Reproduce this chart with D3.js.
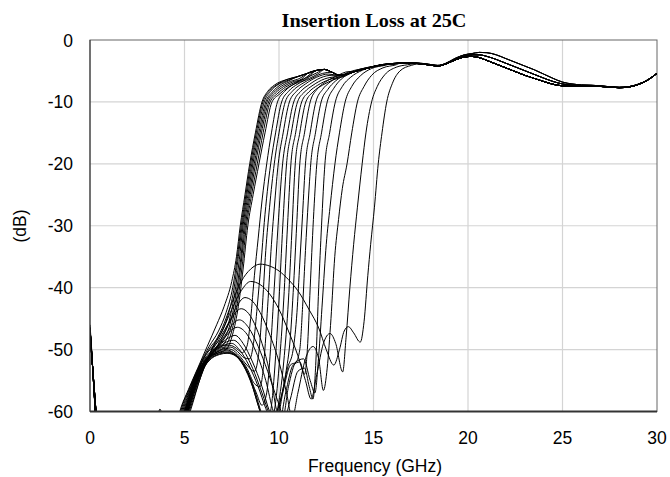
<!DOCTYPE html>
<html><head><meta charset="utf-8">
<script src="https://cdn.jsdelivr.net/npm/d3@7"></script>
<style>body{margin:0;background:#fff}svg{display:block}</style>
</head><body><svg id="c" width="670" height="477"></svg>
<script>
const title = "Insertion Loss at 25C";
const xLabel = "Frequency (GHz)";
const yLabel = "(dB)";
const xTicks = [0,5,10,15,20,25,30];
const yTicks = [0,-10,-20,-30,-40,-50,-60];

// shared low-frequency segments
const lowA = [[0,-46.5],[0.1,-51],[0.22,-57],[0.34,-63],[0.6,-68],[4.3,-68]];
const lowB = [[0,-47.5],[0.13,-52.5],[0.28,-58.5],[0.42,-64],[0.7,-68],[4.3,-68]];
const lowBlip = [[0,-46],[0.1,-50.5],[0.2,-56],[0.32,-62],[0.6,-66],[3.5,-62],[3.7,-59.6],[3.9,-62],[4.3,-66]];

// shared passband segments
const passA = [[10,-6.8],[10.5,-6.3],[11,-5.9],[11.5,-5.4],[12,-4.9],[12.4,-4.75],[12.8,-5.2],[13.2,-5.7],[13.6,-5.5],[14,-5.1],[14.5,-4.7],[15,-4.3],[15.5,-4.0],[16,-3.85],[16.5,-3.75],[17,-3.75],[17.5,-3.85],[18,-4.05],[18.4,-4.2],[18.8,-3.9],[19.3,-3.25],[19.8,-2.75],[20.2,-2.65],[20.6,-2.85],[21,-3.3],[21.5,-3.9],[22,-4.5],[22.5,-5.1],[23,-5.7],[23.5,-6.2],[24,-6.7],[24.5,-7.15],[25,-7.4],[25.5,-7.45],[26,-7.45],[26.5,-7.45],[27,-7.5],[27.5,-7.6],[28,-7.7],[28.5,-7.6],[29,-7.2],[29.5,-6.5],[30,-5.4]];
const passB = [[14,-5.0],[14.5,-4.6],[15,-4.25],[15.5,-3.95],[16,-3.8],[16.5,-3.7],[17,-3.7],[17.5,-3.8],[18,-4.0],[18.4,-4.15],[18.8,-3.85],[19.3,-3.15],[19.8,-2.6],[20.2,-2.4],[20.6,-2.4],[21,-2.65],[21.5,-3.15],[22,-3.75],[22.5,-4.35],[23,-4.95],[23.5,-5.55],[24,-6.15],[24.5,-6.7],[25,-7.1],[25.5,-7.3],[26,-7.35],[26.5,-7.35],[27,-7.45],[27.5,-7.55],[28,-7.65],[28.5,-7.55],[29,-7.15],[29.5,-6.45],[30,-5.35]];
const passC = [[15,-4.2],[15.5,-3.9],[16,-3.75],[16.5,-3.65],[17,-3.65],[17.5,-3.75],[18,-3.95],[18.4,-4.1],[18.8,-3.8],[19.3,-3.0],[19.8,-2.4],[20.2,-2.2],[20.6,-2.0],[21,-2.05],[21.5,-2.4],[22,-3.0],[22.5,-3.6],[23,-4.2],[23.5,-4.8],[24,-5.5],[24.5,-6.2],[25,-6.8],[25.5,-7.1],[26,-7.25],[26.5,-7.3],[27,-7.4],[27.5,-7.55],[28,-7.65],[28.5,-7.55],[29,-7.15],[29.5,-6.45],[30,-5.35]];

// individual transition curves (stopband + rise + knee)
const c00 = [[4.75,-60],[5.2,-56.5],[5.7,-53],[6.2,-49.5],[6.7,-46],[7.1,-43],[7.5,-39],[7.75,-35],[7.95,-30],[8.2,-25],[8.45,-20],[8.75,-15],[9.1,-10],[9.4,-8.3],[9.75,-7.3]];
const c01 = [[4.8,-60],[5.3,-56],[5.8,-52.5],[6.3,-49.5],[6.8,-47],[7.2,-44],[7.55,-40],[7.8,-35],[8.0,-30],[8.25,-25],[8.5,-20],[8.8,-15],[9.15,-10],[9.5,-8.2],[9.85,-7.3]];
const c02 = [[4.85,-60],[5.4,-55.5],[5.9,-52],[6.4,-49.5],[6.9,-47.5],[7.3,-44.5],[7.6,-40.5],[7.85,-35],[8.05,-30],[8.3,-25],[8.56,-20],[8.86,-15],[9.22,-10],[9.55,-8.3],[9.95,-7.2],[10.4,-6.6]];
const c03 = [[4.9,-60],[5.5,-55],[6.0,-51.5],[6.5,-49.5],[7.0,-48],[7.35,-45.5],[7.65,-41],[7.9,-35.5],[8.1,-30],[8.36,-25],[8.62,-20],[8.93,-15],[9.3,-10],[9.65,-8.4],[10.05,-7.3],[10.5,-6.6]];
const c04 = [[4.95,-60],[5.55,-54.5],[6.05,-51.5],[6.6,-49.8],[7.05,-48.5],[7.4,-46],[7.7,-41.5],[7.95,-36],[8.16,-30],[8.42,-25],[8.69,-20],[9.0,-15],[9.37,-10],[9.72,-8.5],[10.15,-7.4],[10.6,-6.7],[11.1,-6.2]];
const c05 = [[5.0,-60],[5.6,-54.5],[6.1,-51.5],[6.7,-50],[7.1,-49],[7.45,-46.5],[7.75,-42],[8.0,-36],[8.22,-30],[8.48,-25],[8.76,-20],[9.07,-15],[9.45,-10],[9.8,-8.6],[10.25,-7.5],[10.7,-6.8],[11.2,-6.3]];
const c06 = [[5.05,-60],[5.65,-54],[6.15,-51.5],[6.75,-50.3],[7.15,-49.5],[7.5,-47],[7.8,-42.5],[8.05,-36.5],[8.28,-30],[8.55,-25],[8.85,-20],[9.16,-15],[9.53,-10],[9.9,-8.7],[10.35,-7.6],[10.8,-6.9],[11.3,-6.3]];
const c07 = [[5.1,-60],[5.7,-54],[6.2,-51.5],[6.8,-50.5],[7.2,-50],[7.55,-47.5],[7.85,-43],[8.1,-37],[8.35,-30],[8.63,-25],[8.94,-20],[9.26,-15],[9.63,-10],[10.0,-8.8],[10.45,-7.7],[10.9,-7.0],[11.4,-6.4]];
const c08 = [[5.0,-60],[5.6,-54.5],[6.15,-51.5],[6.65,-50],[7.05,-49.3],[7.4,-49.3],[7.75,-49.8],[8.05,-50.5],[8.3,-49.5],[8.5,-45],[8.7,-38],[8.9,-32],[9.1,-26],[9.35,-20],[9.6,-15],[9.92,-10],[10.3,-8.3],[10.8,-7.1],[11.4,-6.2],[12.0,-5.3]];
const c09 = [[5.0,-60],[5.6,-54.5],[6.15,-51.5],[6.7,-50.2],[7.1,-49.6],[7.45,-49.6],[7.8,-50.3],[8.15,-51.3],[8.45,-51.5],[8.65,-49],[8.85,-43],[9.05,-36],[9.22,-29.5],[9.38,-24.5],[9.56,-20],[9.82,-15],[10.14,-10],[10.5,-8.3],[11.0,-7.1],[11.6,-6.2],[12.1,-5.4]];
const c10 = [[5.05,-60],[5.65,-54.5],[6.2,-51.6],[6.75,-50.3],[7.15,-49.8],[7.5,-50],[7.9,-51],[8.3,-52.5],[8.7,-53.5],[8.95,-50],[9.1,-44],[9.3,-34],[9.5,-27],[9.75,-20],[10.0,-15],[10.33,-10],[10.7,-8.3],[11.2,-7.1],[11.8,-6.1],[12.3,-5.4]];
const c11 = [[5.05,-60],[5.65,-54.5],[6.2,-51.6],[6.75,-50.4],[7.15,-50],[7.5,-50.3],[7.9,-51.3],[8.3,-53],[8.7,-55.5],[9.0,-56],[9.2,-52],[9.4,-43],[9.6,-33],[9.78,-26],[9.96,-20],[10.22,-15],[10.55,-10],[10.92,-8.3],[11.4,-7.1],[12.0,-6.0],[12.6,-5.5]];
const c12 = [[5.1,-60],[5.7,-54.5],[6.25,-51.6],[6.8,-50.5],[7.2,-50.2],[7.55,-50.5],[8.0,-51.8],[8.4,-54],[8.8,-57],[9.1,-59],[9.35,-57],[9.55,-50],[9.75,-40],[9.95,-30],[10.19,-20],[10.45,-15],[10.78,-10],[11.15,-8.3],[11.6,-7.2],[12.2,-6.1],[12.8,-5.7]];
const c13 = [[5.1,-60],[5.7,-54.5],[6.25,-51.7],[6.8,-50.6],[7.2,-50.4],[7.6,-50.7],[8.05,-52.2],[8.5,-55],[8.9,-59],[9.25,-62],[9.55,-60],[9.8,-52],[10.0,-42],[10.2,-30],[10.4,-20],[10.65,-15],[10.98,-10],[11.35,-8.4],[11.8,-7.3],[12.4,-6.3],[13.0,-5.9]];
const c14 = [[5.15,-60],[5.75,-54.5],[6.3,-51.7],[6.85,-50.7],[7.25,-50.5],[7.65,-50.9],[8.1,-52.5],[8.6,-56],[9.0,-60],[9.4,-63],[9.75,-60],[10.05,-51],[10.25,-42],[10.45,-30],[10.63,-20],[10.88,-15],[11.2,-10],[11.58,-8.4],[12.05,-7.3],[12.65,-6.4],[13.3,-5.9]];
const c15 = [[5.15,-60],[5.75,-54.5],[6.3,-51.8],[6.85,-50.8],[7.25,-50.6],[7.7,-51],[8.2,-52.8],[8.7,-56.5],[9.1,-60.5],[9.5,-63],[9.9,-60],[10.25,-52],[10.5,-42],[10.68,-31],[10.86,-20],[11.1,-15],[11.42,-10],[11.8,-8.4],[12.3,-7.3],[12.9,-6.4],[13.5,-5.8]];
const c16 = [[5.05,-60],[5.65,-54.5],[6.2,-51.5],[6.7,-50],[7.1,-49.3],[7.5,-49],[7.9,-50],[8.4,-52.5],[8.9,-56],[9.3,-59.5],[9.65,-62],[10.0,-59],[10.35,-54],[10.6,-48],[10.8,-38],[10.95,-29],[11.1,-20],[11.35,-15],[11.65,-10],[12.0,-8],[12.4,-6.9],[13.0,-5.9],[13.7,-5.1]];
const c17 = [[5.1,-60],[5.7,-54.5],[6.2,-51.5],[6.7,-49.8],[7.1,-49],[7.35,-48.6],[7.6,-48.5],[8.1,-50],[8.6,-53],[9.1,-57],[9.5,-60.5],[9.8,-62],[10.1,-58],[10.45,-53],[10.75,-50],[10.95,-44],[11.1,-36],[11.25,-28],[11.4,-20],[11.65,-15],[11.95,-10],[12.3,-8],[12.7,-6.8],[13.3,-5.7],[14.0,-4.9]];
const c18 = [[5.1,-60],[5.7,-54.5],[6.25,-51.3],[6.75,-49.6],[7.15,-48.5],[7.45,-47.9],[7.67,-47.7],[8.1,-49],[8.6,-52],[9.1,-56],[9.5,-60],[9.85,-62],[10.2,-57],[10.6,-52.5],[10.9,-52],[11.1,-50],[11.25,-43],[11.4,-34],[11.55,-26],[11.68,-20],[11.93,-15],[12.23,-10],[12.58,-8],[13.0,-6.6],[13.6,-5.5],[14.3,-4.7]];
const c19 = [[5.15,-60],[5.75,-54.5],[6.3,-51.2],[6.8,-49.3],[7.2,-47.8],[7.5,-46.8],[7.8,-46.4],[8.3,-47.5],[8.8,-50.5],[9.3,-55],[9.7,-60],[10.0,-62],[10.35,-57],[10.75,-52.5],[11.1,-52],[11.35,-54],[11.5,-50],[11.65,-40],[11.82,-29],[12.0,-20],[12.25,-15],[12.55,-10],[12.9,-7.8],[13.3,-6.3],[13.9,-5.2],[14.6,-4.5]];
const c20 = [[5.15,-60],[5.75,-54.5],[6.35,-51],[6.85,-49],[7.3,-47],[7.6,-45.7],[7.9,-45.2],[8.4,-46.5],[8.9,-49.5],[9.4,-53.5],[9.9,-58],[10.3,-61],[10.6,-58],[11.0,-53.5],[11.35,-53],[11.6,-56],[11.8,-58],[11.95,-52],[12.1,-40],[12.25,-30],[12.43,-20],[12.68,-15],[12.98,-10],[13.35,-7.5],[13.8,-6.0],[14.4,-4.9],[15.1,-4.2]];
const c21 = [[5.2,-60],[5.8,-54.5],[6.4,-51],[6.9,-48.5],[7.4,-45.5],[7.7,-44],[8.0,-43.4],[8.4,-44.2],[8.8,-46.5],[9.2,-50],[9.6,-55],[9.9,-60],[10.2,-61],[10.5,-56],[10.9,-52],[11.3,-51.5],[11.65,-55],[11.9,-57],[12.1,-51],[12.3,-42],[12.5,-33],[12.7,-27],[12.96,-20],[13.2,-15],[13.5,-10],[13.85,-7.5],[14.3,-5.8],[14.9,-4.6],[15.6,-4.1]];
const c22 = [[5.2,-60],[5.8,-54.5],[6.4,-50.5],[6.9,-48],[7.4,-45.3],[7.8,-42.8],[8.2,-41.6],[8.6,-42.2],[9.0,-44],[9.5,-47.5],[10.0,-52],[10.4,-57],[10.7,-61],[11.0,-57],[11.4,-51.5],[11.8,-49.5],[12.1,-51.5],[12.35,-56.6],[12.55,-53],[12.75,-45],[12.95,-35],[13.15,-29],[13.35,-24],[13.6,-20],[13.85,-15],[14.15,-10],[14.5,-7.5],[14.9,-5.7],[15.5,-4.5],[16.2,-4.0]];
const c23 = [[5.25,-60],[5.85,-54.5],[6.45,-50],[7.0,-47],[7.5,-43.5],[8.0,-40.5],[8.5,-39],[9.0,-39.5],[9.5,-41],[10.0,-43.5],[10.5,-47],[11.0,-51],[11.4,-55],[11.7,-58],[12.0,-54],[12.35,-49],[12.7,-47.4],[13.0,-49],[13.37,-53.6],[13.55,-48],[13.75,-40],[13.95,-33],[14.15,-27],[14.4,-20],[14.6,-15],[14.9,-10],[15.2,-7.5],[15.6,-5.6],[16.2,-4.4],[16.8,-4.0]];
const c24 = [[5.3,-60],[5.9,-54],[6.5,-49.5],[7.0,-46.5],[7.5,-42.5],[8.0,-39],[8.5,-37],[9.0,-36.2],[9.5,-36.5],[10.0,-37.3],[10.5,-38.7],[11.0,-40.5],[11.6,-43.6],[12.1,-46.5],[12.5,-50],[12.9,-52.5],[13.2,-50],[13.45,-47],[13.67,-46.3],[13.95,-47.3],[14.3,-48.8],[14.5,-45.5],[14.7,-38],[14.85,-33],[15.05,-27],[15.25,-20],[15.45,-15],[15.7,-10],[16.0,-7],[16.4,-5],[17.0,-4.1],[17.6,-3.8]];

const curveSet = [c00,c01,c02,c03,c04,c05,c06,c07,c08,c09,c10,c11,c12,c13,c14,c15,c16,c17,c18,c19,c20,c21,c22,c23,c24];
const lowOf  = ["blip","B","A","B","A","B","A","B","A","B","A","B","A","B","A","B","A","B","A","B","A","B","A","B","A"];
const passOf = ["A","A","A","A","A","A","A","A","A","A","A","A","A","A","A","A","A","B","B","B","B","B","C","C","C"];

const lows = {A: lowA, B: lowB, blip: lowBlip};
const passes = {A: passA, B: passB, C: passC};

const svg = d3.select("#c");
const L = 90, R = 657, T = 40, B = 411.5;
const x = d3.scaleLinear().domain([0,30]).range([L,R]);
const y = d3.scaleLinear().domain([-60,0]).range([B,T]);

svg.append("defs").append("clipPath").attr("id","clip")
  .append("rect").attr("x",L).attr("y",T).attr("width",R-L).attr("height",B-T);

// gridlines
svg.append("g").selectAll("line").data(xTicks.filter(v=>v>0&&v<30)).join("line")
  .attr("x1",d=>x(d)).attr("x2",d=>x(d)).attr("y1",T).attr("y2",B)
  .attr("stroke","#d4d4d4").attr("stroke-width",1.2);
svg.append("g").selectAll("line").data(yTicks.filter(v=>v<0&&v>-60)).join("line")
  .attr("x1",L).attr("x2",R).attr("y1",d=>y(d)).attr("y2",d=>y(d))
  .attr("stroke","#d4d4d4").attr("stroke-width",1.2);

// frame
svg.append("rect").attr("x",L).attr("y",T).attr("width",R-L).attr("height",B-T)
  .attr("fill","none").attr("stroke","#666").attr("stroke-width",1);

const line = d3.line().x(d=>x(d[0])).y(d=>y(d[1])).curve(d3.curveMonotoneX);

const g = svg.append("g").attr("clip-path","url(#clip)");
curveSet.forEach((pts,i)=>{
  const last = pts[pts.length-1][0];
  const full = lows[lowOf[i]].concat(pts, passes[passOf[i]].filter(p=>p[0] > last + 0.25));
  g.append("path").attr("d", line(full)).attr("fill","none")
    .attr("stroke","#000").attr("stroke-width",1);
});

// bottom axis line & left border
svg.append("line").attr("x1",L).attr("x2",R).attr("y1",B).attr("y2",B)
  .attr("stroke","#333").attr("stroke-width",2);
svg.append("line").attr("x1",L).attr("x2",L).attr("y1",T).attr("y2",B)
  .attr("stroke","#333").attr("stroke-width",1);

// tick labels
const font = "'Liberation Sans', Arial, sans-serif";
svg.append("g").selectAll("text").data(xTicks).join("text")
  .attr("x",d=>x(d)).attr("y",444).attr("text-anchor","middle")
  .attr("font-family",font).attr("font-size",17.5).attr("fill","#000").text(d=>d);
svg.append("g").selectAll("text").data(yTicks).join("text")
  .attr("x",73).attr("y",d=>y(d)+6.5).attr("text-anchor","end")
  .attr("font-family",font).attr("font-size",17.5).attr("fill","#000").text(d=>d);

svg.append("text").attr("x",375).attr("y",472).attr("text-anchor","middle")
  .attr("font-family",font).attr("font-size",17.5).text(xLabel);
svg.append("text").attr("transform","translate(26,226) rotate(-90)").attr("text-anchor","middle")
  .attr("font-family",font).attr("font-size",17.5).text(yLabel);
svg.append("text").attr("x",374).attr("y",27).attr("text-anchor","middle")
  .attr("font-family","'Liberation Serif', 'Times New Roman', serif").attr("font-weight","bold")
  .attr("font-size",19.5).attr("textLength",185).attr("lengthAdjust","spacingAndGlyphs").text(title);
</script></body></html>
